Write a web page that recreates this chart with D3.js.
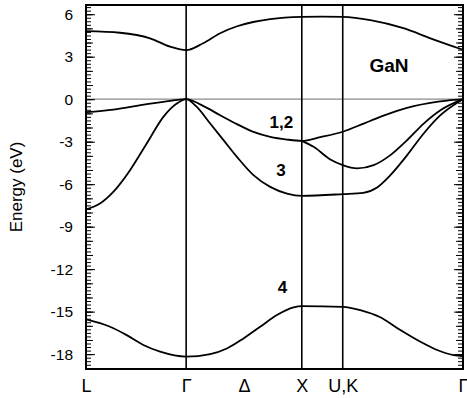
<!DOCTYPE html>
<html>
<head>
<meta charset="utf-8">
<script src="https://cdn.jsdelivr.net/npm/d3@7"></script>
<style>
  body { margin: 0; background: #fff; }
  svg { display: block; }
  text { font-family: "Liberation Sans", Arial, Helvetica, sans-serif; }
</style>
</head>
<body>
<svg id="chart" width="467" height="398"></svg>
<script>
// k-path positions of the high-symmetry points (L, Γ, X, U/K, Γ)
const kPoints = [0, 0.866, 1.866, 2.22, 3.26];
const kLabelPos = [0, 0.866, 1.366, 1.866, 2.22, 3.26];
const kLabels = ["L", "Γ", "Δ", "X", "U,K", "Γ"];
const yTicks = [6, 3, 0, -3, -6, -9, -12, -15, -18];
const yDomain = [-19.05, 6.65];

// conduction band
const bandC = [[0,4.80],[0.294,4.69],[0.554,4.30],[0.727,3.71],[0.866,3.46],[1.013,3.95],[1.160,4.66],[1.307,5.15],[1.446,5.45],[1.593,5.65],[1.866,5.81],[2.04,5.83],[2.22,5.81],[2.459,5.58],[2.745,5.01],[2.978,4.30],[3.26,3.49]];
// valence band 1 (upper branch of 1,2)
const band1 = [[0,-0.92],[0.238,-0.73],[0.525,-0.35],[0.669,-0.19],[0.866,0],[1.016,-0.49],[1.160,-1.13],[1.305,-1.76],[1.448,-2.31],[1.593,-2.66],[1.738,-2.85],[1.866,-2.94],[2.026,-2.68],[2.22,-2.30],[2.401,-1.72],[2.545,-1.25],[2.690,-0.82],[2.834,-0.49],[2.978,-0.26],[3.123,-0.10],[3.26,0]];
// valence band 2 (lower branch of 1,2, splits at X)
const band2 = [[1.866,-2.94],[1.968,-3.36],[2.113,-4.26],[2.22,-4.66],[2.344,-4.89],[2.487,-4.66],[2.632,-3.95],[2.777,-2.89],[2.920,-1.72],[3.065,-0.78],[3.26,0]];
// valence band 3
const band3 = [[0,-7.78],[0.121,-7.36],[0.236,-6.54],[0.381,-5.01],[0.525,-3.13],[0.669,-1.25],[0.785,-0.31],[0.866,0],[0.958,-0.54],[1.074,-1.72],[1.189,-2.89],[1.305,-4.07],[1.448,-5.36],[1.593,-6.19],[1.738,-6.66],[1.866,-6.82],[2.22,-6.70],[2.398,-6.61],[2.517,-6.23],[2.632,-5.36],[2.777,-3.95],[2.920,-2.42],[3.065,-1.13],[3.210,-0.25],[3.26,0]];
// valence band 4
const band4 = [[0,-15.55],[0.208,-16.07],[0.352,-16.66],[0.496,-17.36],[0.641,-17.83],[0.866,-18.18],[1.074,-18.0],[1.218,-17.6],[1.362,-16.89],[1.506,-16.07],[1.651,-15.24],[1.795,-14.7],[1.866,-14.61],[2.22,-14.66],[2.372,-14.89],[2.545,-15.4],[2.718,-16.3],[2.892,-17.13],[3.036,-17.71],[3.177,-18.07],[3.26,-18.14]];

const bandLabels = [
  {text: "GaN", k: 2.62, e: 1.9, size: 19},
  {text: "1,2", k: 1.69, e: -2.0, size: 17},
  {text: "3",   k: 1.685, e: -5.45, size: 17},
  {text: "4",   k: 1.70, e: -13.7, size: 17}
];

const svg = d3.select("#chart");
const mLeft = 86, mRight = 463, mTop = 5, mBottom = 369;
const x = d3.scaleLinear().domain([kPoints[0], kPoints[kPoints.length-1]]).range([mLeft, mRight]);
const y = d3.scaleLinear().domain(yDomain).range([mBottom, mTop]);

// zero line
svg.append("line")
  .attr("x1", mLeft).attr("x2", mRight)
  .attr("y1", y(0)).attr("y2", y(0))
  .attr("stroke", "#8a8a8a").attr("stroke-width", 1.2);

// vertical symmetry lines
svg.selectAll("line.sym").data(kPoints.slice(1, 4)).join("line")
  .attr("class", "sym")
  .attr("x1", d => x(d)).attr("x2", d => x(d))
  .attr("y1", mTop).attr("y2", mBottom)
  .attr("stroke", "#000").attr("stroke-width", 1.6);

// bands
const bandLine = d3.line().x(d => x(d[0])).y(d => y(d[1])).curve(d3.curveMonotoneX);
[bandC, band1, band2, band3, band4].forEach(b => {
  svg.append("path").datum(b)
    .attr("d", bandLine)
    .attr("fill", "none").attr("stroke", "#000").attr("stroke-width", 1.8);
});

// frame
svg.append("rect")
  .attr("x", mLeft).attr("y", mTop).attr("width", mRight - mLeft).attr("height", mBottom - mTop)
  .attr("fill", "none").attr("stroke", "#000").attr("stroke-width", 2);

// ticks: left (inward) and right (inward)
const minor = d3.range(-19, 6.6, 0.25);
const medium = d3.range(-19, 6.6, 1);
function tickAxis(axisFn, pos, vals, size) {
  const g = svg.append("g").attr("transform", `translate(${pos},0)`)
    .call(axisFn(y).tickValues(vals).tickSize(size).tickFormat(() => ""));
  g.select(".domain").remove();
  g.selectAll(".tick line").attr("stroke-width", 1).attr("stroke", "#000");
  g.selectAll(".tick text").remove();
}
tickAxis(d3.axisRight, mLeft, minor, 5);
tickAxis(d3.axisRight, mLeft, medium, 7);
tickAxis(d3.axisRight, mLeft, yTicks, 9);
tickAxis(d3.axisLeft, mRight, minor, 5);
tickAxis(d3.axisLeft, mRight, medium, 7);
tickAxis(d3.axisLeft, mRight, yTicks, 9);

// y labels
const gy = svg.append("g").attr("transform", `translate(${mLeft},0)`)
  .call(d3.axisLeft(y).tickValues(yTicks).tickSize(0).tickPadding(13).tickFormat(d => String(d)));
gy.select(".domain").remove();
gy.selectAll("text").attr("font-size", 15.5).attr("fill", "#000")
  .attr("font-family", "'Liberation Sans', Arial, sans-serif");

// x labels
const gx = svg.append("g").attr("transform", `translate(0,${mBottom})`)
  .call(d3.axisBottom(x).tickValues(kLabelPos).tickSize(0).tickPadding(10).tickFormat((d, i) => kLabels[i]));
gx.select(".domain").remove();
gx.selectAll("text").attr("font-size", 18).attr("fill", "#000")
  .attr("font-family", "'Liberation Sans', Arial, sans-serif");

// axis title
svg.append("text")
  .attr("transform", `translate(22,${(mTop+mBottom)/2}) rotate(-90)`)
  .attr("text-anchor", "middle")
  .attr("font-size", 17)
  .text("Energy (eV)");

// band labels
svg.selectAll("text.bl").data(bandLabels).join("text")
  .attr("class", "bl")
  .attr("x", d => x(d.k)).attr("y", d => y(d.e))
  .attr("text-anchor", "middle")
  .attr("font-weight", "bold")
  .attr("font-size", d => d.size)
  .text(d => d.text);
</script>
</body>
</html>
